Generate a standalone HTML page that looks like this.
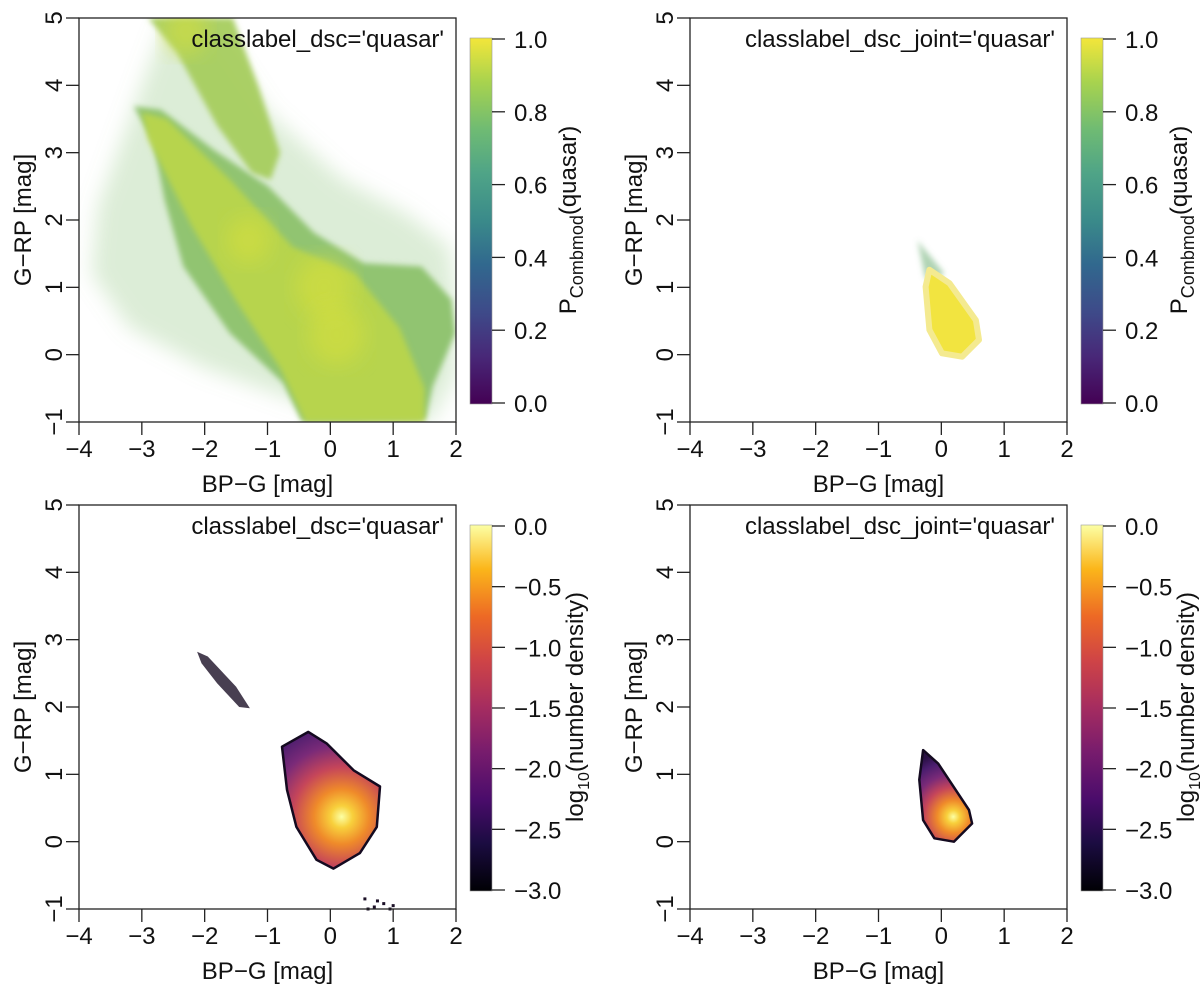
<!DOCTYPE html>
<html><head><meta charset="utf-8">
<style>
body{margin:0;background:#fff;}
svg{display:block;font-family:"Liberation Sans",Arial,sans-serif;}
</style></head>
<body>
<svg id="fig" width="1200" height="985" viewBox="0 0 1200 985" xmlns="http://www.w3.org/2000/svg">
<defs>
<linearGradient id="viridis" x1="0" y1="1" x2="0" y2="0">
<stop offset="0" stop-color="#440154"/><stop offset="0.13" stop-color="#482878"/><stop offset="0.25" stop-color="#3e4a89"/><stop offset="0.38" stop-color="#31688e"/><stop offset="0.5" stop-color="#3a8a8a"/><stop offset="0.63" stop-color="#4fa487"/><stop offset="0.75" stop-color="#6fbb73"/><stop offset="0.88" stop-color="#a8d34e"/><stop offset="1" stop-color="#f3e63a"/>
</linearGradient>
<linearGradient id="inferno" x1="0" y1="1" x2="0" y2="0">
<stop offset="0" stop-color="#000004"/><stop offset="0.13" stop-color="#1b0c41"/><stop offset="0.25" stop-color="#4a0c6b"/><stop offset="0.38" stop-color="#781c6d"/><stop offset="0.5" stop-color="#a52c60"/><stop offset="0.63" stop-color="#cf4446"/><stop offset="0.75" stop-color="#ed6925"/><stop offset="0.88" stop-color="#fbb61a"/><stop offset="1" stop-color="#fcffa4"/>
</linearGradient>
<filter id="soft" x="-20%" y="-20%" width="140%" height="140%"><feGaussianBlur stdDeviation="3"/></filter>
<filter id="soft2" x="-20%" y="-20%" width="140%" height="140%"><feGaussianBlur stdDeviation="10"/></filter>
</defs>
</svg>
<script>
// ---- data (data coordinates: BP-G, G-RP) ----
const xTicks = [-4,-3,-2,-1,0,1,2];
const yTicks = [-1,0,1,2,3,4,5];
const xTickLabels = ["\u22124","\u22123","\u22122","\u22121","0","1","2"];
const yTickLabels = ["\u22121","0","1","2","3","4","5"];
const probTicks = [0,0.2,0.4,0.6,0.8,1.0];
const probTickLabels = ["0.0","0.2","0.4","0.6","0.8","1.0"];
const densTicks = [-3,-2.5,-2,-1.5,-1,-0.5,0];
const densTickLabels = ["\u22123.0","\u22122.5","\u22122.0","\u22121.5","\u22121.0","\u22120.5","0.0"];
const panelTitles = ["classlabel_dsc='quasar'","classlabel_dsc_joint='quasar'","classlabel_dsc='quasar'","classlabel_dsc_joint='quasar'"];

// top-left: probability map regions
const tlScatterX = [-3.7,-3.0,-2.6,-2.0,-1.0,0.2,1.2,1.9,2.0,2.0,1.6,0.4,-0.8,-2.0,-3.2,-3.8];
const tlScatterY = [ 2.2, 4.0, 5.0, 5.0, 3.6, 2.6, 2.1, 1.6, 0.8,-0.3,-1.0,-1.0,-0.6,-0.2, 0.4, 1.2];
const tlBandX = [-3.13,-2.70,-1.85,-0.99,-0.26,0.53,1.45,1.93,1.99,1.63,1.51,-0.45,-0.75,-1.60,-2.34,-2.64,-2.82];
const tlBandY = [ 3.69, 3.64, 3.04, 2.50, 1.81,1.36,1.31,0.82,0.32,-0.47,-0.96,-1.00,-0.42, 0.32, 1.31, 2.30, 3.19];
const tlCoreX = [-3.0,-2.6,-1.6,-0.6,0.4,1.1,1.5,1.5,-0.4,-0.8,-1.5,-2.2,-2.9];
const tlCoreY = [ 3.6, 3.5, 2.6, 1.6,1.2,0.4,-0.5,-1.0,-1.0,-0.2,0.8,1.9,3.2];
const tlBranchX = [-2.9,-1.55,-1.15,-0.80,-0.95,-1.25,-1.80,-2.45];
const tlBranchY = [ 5.00, 5.00, 4.00, 3.00, 2.60, 2.70, 3.40, 4.50];
const tlHotX = [-0.1,0.1,-1.3,-2.3];
const tlHotY = [1.0,0.3,1.7,4.8];
const tlHotR = [0.45,0.45,0.35,0.35];

// top-right: joint probability blob
const trBlobX = [-0.25,-0.19,0.13,0.55,0.60,0.33,0.01,-0.19];
const trBlobY = [ 1.01, 1.26,1.06,0.51,0.22,-0.03,0.02,0.37];
const trCapX = [-0.38,-0.30,-0.12,0.05,-0.15,-0.26];
const trCapY = [ 1.70, 1.60, 1.40,1.20,1.10,1.15];

// bottom-left: density blob
const blBlobX = [-0.77,-0.35,-0.06,0.37,0.79,0.74,0.47,0.05,-0.22,-0.54,-0.69];
const blBlobY = [ 1.41, 1.63, 1.46,1.06,0.82,0.22,-0.17,-0.40,-0.27,0.22,0.77];
const blPeak = [0.18,0.37];
const blStreakX = [-2.12,-1.95,-1.50,-1.28,-1.45,-1.80,-2.05];
const blStreakY = [ 2.82, 2.75, 2.30, 1.98, 2.00, 2.35, 2.65];
const blSpeckX = [0.55,0.75,1.0,0.95,0.6,0.85,0.7];
const blSpeckY = [-0.85,-0.88,-0.95,-1.0,-1.0,-0.92,-0.97];

// bottom-right: density blob
const brBlobX = [-0.29,-0.05,0.44,0.49,0.20,-0.11,-0.29,-0.35];
const brBlobY = [ 1.36, 1.16,0.47,0.27,0.00,0.05,0.32,0.92];
const brPeak = [0.19,0.37];

// ---- layout ----
const svg = document.getElementById('fig');
const NS = 'http://www.w3.org/2000/svg';
const panels = [{x0:79,y0:18},{x0:690,y0:18},{x0:79,y0:505},{x0:690,y0:505}];
const PW = 377, PH = 404;
const FS = 24;
function xs(p,v){return p.x0 + (v+4)/6*PW;}
function ys(p,v){return p.y0 + (5-v)/6*PH;}
function el(tag, attrs, parent){const e=document.createElementNS(NS,tag);for(const k in attrs)e.setAttribute(k,attrs[k]);(parent||svg).appendChild(e);return e;}
function pts(p,X,Y){return X.map((x,i)=>xs(p,x).toFixed(1)+','+ys(p,Y[i]).toFixed(1)).join(' ');}

function drawPoly(p,X,Y,fill,op,name,g){
  const e = el('polygon',{points:pts(p,X,Y),fill:fill,'fill-opacity':op,'stroke-linejoin':'round'},g);
  
  
  return e;
}

function drawAxes(p, idx){
  const g = el('g',{});
  
  
  const box = el('rect',{x:p.x0,y:p.y0,width:PW,height:PH,fill:'none',stroke:'#222','stroke-width':1.3},g);
  
  
  xTicks.forEach((t,i)=>{
    const x = xs(p,t);
    el('line',{x1:x,y1:p.y0+PH,x2:x,y2:p.y0+PH+13,stroke:'#222','stroke-width':1.3},g);
    const tx = el('text',{x:x,y:p.y0+PH+35,'font-size':FS,'text-anchor':'middle',fill:'#111'},g);
    tx.textContent = xTickLabels[i];
    
    
  });
  yTicks.forEach((t,i)=>{
    const y = ys(p,t);
    el('line',{x1:p.x0-13,y1:y,x2:p.x0,y2:y,stroke:'#222','stroke-width':1.3},g);
    const tx = el('text',{x:0,y:0,'font-size':FS,'text-anchor':'middle',fill:'#111',transform:`translate(${p.x0-17},${y}) rotate(-90)`},g);
    tx.textContent = yTickLabels[i];
    
    
  });
  const xt = el('text',{x:p.x0+PW/2,y:p.y0+PH+70,'font-size':FS,'text-anchor':'middle',fill:'#111'},g);
  xt.textContent = 'BP\u2212G [mag]';
  
  
  const yt = el('text',{x:0,y:0,'font-size':FS,'text-anchor':'middle',fill:'#111',transform:`translate(${p.x0-48},${p.y0+PH/2}) rotate(-90)`},g);
  yt.textContent = 'G\u2212RP [mag]';
  
  
  const lt = el('text',{x:p.x0+PW-12,y:p.y0+29,'font-size':FS,'text-anchor':'end',fill:'#111'},g);
  lt.textContent = panelTitles[idx];
  
  
}

function drawColorbar(p, kind){
  const g = el('g',{});
  
  
  const cx = p.x0+PW+14, top = p.y0+20, bot = p.y0+386;
  const r = el('rect',{x:cx,y:top,width:22,height:bot-top,fill:kind==='prob'?'url(#viridis)':'url(#inferno)',stroke:'#999','stroke-width':0.6},g);
  
  
  const ticks = kind==='prob'?probTicks:densTicks;
  const labs = kind==='prob'?probTickLabels:densTickLabels;
  const vmin = ticks[0], vmax = ticks[ticks.length-1];
  ticks.forEach((t,i)=>{
    const y = (bot-1) - (t-vmin)/(vmax-vmin)*(bot-top-2);
    el('line',{x1:cx+22,y1:y,x2:cx+35,y2:y,stroke:'#222','stroke-width':1.3},g);
    const tx = el('text',{x:cx+44,y:y+9,'font-size':FS,fill:'#111'},g);
    tx.textContent = labs[i];
    
    
  });
  const tt = el('text',{x:0,y:0,'font-size':FS,'text-anchor':'middle',fill:'#111',transform:`translate(${cx+(kind==='prob'?106:113)},${p.y0+PH/2}) rotate(-90)`},g);
  if(kind==='prob'){
    tt.innerHTML = 'P<tspan font-size="18" dy="7">Combmod</tspan><tspan dy="-7">(quasar)</tspan>';
  } else {
    tt.innerHTML = 'log<tspan font-size="16" dy="6">10</tspan><tspan dy="-6">(number density)</tspan>';
  }
  
  
}

// ---- panel 0: top-left ----
(function(){
  const p = panels[0];
  const cp = el('clipPath',{id:'clipTL'},svg.querySelector('defs'));
  el('rect',{x:p.x0,y:p.y0,width:PW,height:PH},cp);
  const g = el('g',{'clip-path':'url(#clipTL)'});
  
  
  const s = drawPoly(p,tlScatterX,tlScatterY,'#8cc27c',0.3,'sparse-scatter-region',g);
  s.setAttribute('filter','url(#soft2)');
  const b = drawPoly(p,tlBandX,tlBandY,'#8cc26c',0.95,'main-sequence-band',g);
  b.setAttribute('filter','url(#soft)');
  const c = drawPoly(p,tlCoreX,tlCoreY,'#b8d54c',0.95,'main-sequence-core',g);
  c.setAttribute('filter','url(#soft)');
  const br = drawPoly(p,tlBranchX,tlBranchY,'#a6cd5e',0.95,'upper-branch',g);
  br.setAttribute('filter','url(#soft)');
  tlHotX.forEach((x,i)=>{
    const e = el('ellipse',{cx:xs(p,x),cy:ys(p,tlHotY[i]),rx:tlHotR[i]*62.8,ry:tlHotR[i]*67.3,fill:'#d6df3e','fill-opacity':0.6,filter:'url(#soft2)'},g);
    
    
  });
})();
// ---- panel 1: top-right ----
(function(){
  const p = panels[1];
  const g = el('g',{});
  
  
  const cap = drawPoly(p,trCapX,trCapY,'#6fae74',0.55,'low-probability-cap',g);
  cap.setAttribute('filter','url(#soft)');
  const b = drawPoly(p,trBlobX,trBlobY,'#f2e440',1,'quasar-blob',g);
  b.setAttribute('stroke','#f4ea90');b.setAttribute('stroke-width','6');
})();
// ---- density blobs ----
function densityBlob(p,X,Y,peak,name,gid,r){
  const g = el('g',{});
  
  
  const gr = el('radialGradient',{id:gid,gradientUnits:'userSpaceOnUse',cx:xs(p,peak[0]),cy:ys(p,peak[1]),r:r},svg.querySelector('defs'));
  [[0,'#fcffa4'],[0.1,'#f8d03c'],[0.25,'#ef8a2a'],[0.45,'#c5455a'],[0.65,'#7a2a78'],[0.85,'#4a1d6e'],[1,'#2a1045']].forEach(s=>el('stop',{offset:s[0],'stop-color':s[1]},gr));
  const b = drawPoly(p,X,Y,'url(#'+gid+')',1,'density-blob',g);
  b.setAttribute('stroke','#140a20');b.setAttribute('stroke-width','2.5');
  return g;
}
(function(){
  const p = panels[2];
  const g = densityBlob(p,blBlobX,blBlobY,blPeak,'density-map-dsc','gBL',110);
  drawPoly(p,blStreakX,blStreakY,'#1a0f26',0.8,'density-streak',g);
  blSpeckX.forEach((x,i)=>{
    const c = el('rect',{x:xs(p,x)-1.5,y:ys(p,blSpeckY[i])-1.5,width:3,height:3,fill:'#1a0f26'},g);
    
    
  });
})();
densityBlob(panels[3],brBlobX,brBlobY,brPeak,'density-map-joint','gBR',65);

panels.forEach((p,i)=>drawAxes(p,i));
drawColorbar(panels[0],'prob');
drawColorbar(panels[1],'prob');
drawColorbar(panels[2],'dens');
drawColorbar(panels[3],'dens');
</script>
</body></html>
